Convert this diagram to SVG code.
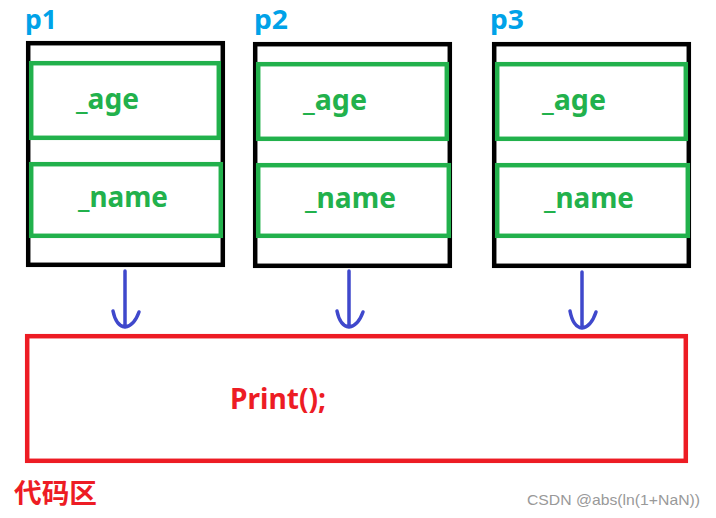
<svg xmlns="http://www.w3.org/2000/svg" width="716" height="518" viewBox="0 0 716 518">
<style>
.obj{fill:#fff;stroke:#000;stroke-width:4.5}
.fld{fill:none;stroke:#22b14c;stroke-width:4.5}
.ft{font-family:"Noto Sans","Liberation Sans",sans-serif;font-weight:bold;font-size:29px;fill:#22b14c}
.pl{font-family:"Noto Sans","Liberation Sans",sans-serif;font-weight:bold;font-size:26px;fill:#00a2e8}
.arr{fill:none;stroke:#3f48cc;stroke-width:3.5;stroke-linecap:round;stroke-linejoin:round}
</style>
<rect width="716" height="518" fill="#fff"/>
<g id="p1">
<text class="pl" x="25" y="28.5" textLength="32" lengthAdjust="spacingAndGlyphs">p1</text>
<rect class="obj" x="28.2" y="43.2" width="194.6" height="221.6"/>
<rect class="fld" x="31.2" y="63.2" width="187.6" height="74.6"/>
<text class="ft" x="76" y="109" textLength="63" lengthAdjust="spacingAndGlyphs">_age</text>
<rect class="fld" x="31.2" y="164.2" width="189.6" height="71.6"/>
<text class="ft" x="78" y="207" textLength="90" lengthAdjust="spacingAndGlyphs">_name</text>
</g>
<g id="p2">
<text class="pl" x="254" y="28.5" textLength="34" lengthAdjust="spacingAndGlyphs">p2</text>
<rect class="obj" x="255.2" y="44.2" width="194.6" height="221.6"/>
<rect class="fld" x="258.2" y="64.2" width="188.6" height="74.6"/>
<text class="ft" x="303" y="110" textLength="64" lengthAdjust="spacingAndGlyphs">_age</text>
<rect class="fld" x="258.2" y="165.2" width="190.6" height="70.6"/>
<text class="ft" x="305" y="208" textLength="91" lengthAdjust="spacingAndGlyphs">_name</text>
</g>
<g id="p3">
<text class="pl" x="490" y="28.5" textLength="34" lengthAdjust="spacingAndGlyphs">p3</text>
<rect class="obj" x="494.2" y="44.2" width="194.6" height="221.6"/>
<rect class="fld" x="497.2" y="64.2" width="188.6" height="74.6"/>
<text class="ft" x="542" y="110" textLength="64" lengthAdjust="spacingAndGlyphs">_age</text>
<rect class="fld" x="497.2" y="165.2" width="190.6" height="70.6"/>
<text class="ft" x="544" y="208" textLength="90" lengthAdjust="spacingAndGlyphs">_name</text>
</g>
<g id="connectors">
<path class="arr" d="M125,271 V326 M113,311 Q116,326 125,327 Q134,326 139,312"/>
<path class="arr" d="M349,271 V326 M337,311 Q340,326 349,327 Q358,326 363,312"/>
<path class="arr" d="M582,272 V327 M570,311 Q573,327 582,328 Q591,327 596,312"/>
</g>
<g id="code">
<rect x="27.2" y="336.2" width="658.6" height="124.6" fill="none" stroke="#ed1c24" stroke-width="4.5"/>
<text x="230" y="409" font-family="Noto Sans,Liberation Sans,sans-serif" font-weight="bold" font-size="29" fill="#ed1c24" textLength="96" lengthAdjust="spacingAndGlyphs">Print();</text>
<text x="14" y="503" font-family="Noto Sans CJK SC,sans-serif" font-weight="bold" font-size="27" fill="#ed1c24" textLength="83" lengthAdjust="spacingAndGlyphs">代码区</text>
</g>
<text x="527" y="505" font-family="Liberation Sans,Arial,sans-serif" font-size="15" fill="#999" textLength="173" lengthAdjust="spacingAndGlyphs">CSDN @abs(ln(1+NaN))</text>
</svg>
